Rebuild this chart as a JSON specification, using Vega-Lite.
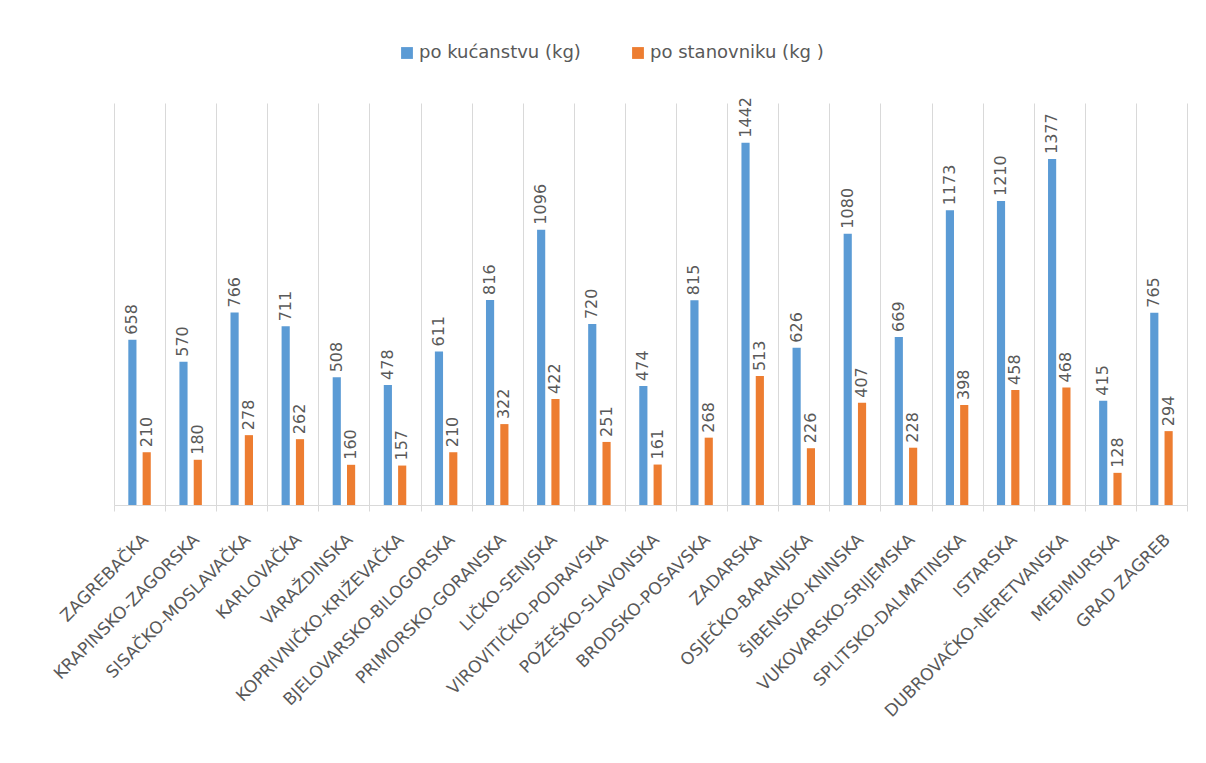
{
  "$schema": "https://vega.github.io/schema/vega-lite/v6.json",
  "width": 1073,
  "height": 402,
  "autosize": "none",
  "padding": {"left": 114, "top": 103, "right": 19, "bottom": 258},
  "background": "white",
  "config": {"view": {"stroke": null}, "font": "DejaVu Sans"},
  "data": {"values": [
    {"county": "ZAGREBAČKA", "series": "po kućanstvu (kg)", "value": 658},
    {"county": "ZAGREBAČKA", "series": "po stanovniku (kg )", "value": 210},
    {"county": "KRAPINSKO-ZAGORSKA", "series": "po kućanstvu (kg)", "value": 570},
    {"county": "KRAPINSKO-ZAGORSKA", "series": "po stanovniku (kg )", "value": 180},
    {"county": "SISAČKO-MOSLAVAČKA", "series": "po kućanstvu (kg)", "value": 766},
    {"county": "SISAČKO-MOSLAVAČKA", "series": "po stanovniku (kg )", "value": 278},
    {"county": "KARLOVAČKA", "series": "po kućanstvu (kg)", "value": 711},
    {"county": "KARLOVAČKA", "series": "po stanovniku (kg )", "value": 262},
    {"county": "VARAŽDINSKA", "series": "po kućanstvu (kg)", "value": 508},
    {"county": "VARAŽDINSKA", "series": "po stanovniku (kg )", "value": 160},
    {"county": "KOPRIVNIČKO-KRIŽEVAČKA", "series": "po kućanstvu (kg)", "value": 478},
    {"county": "KOPRIVNIČKO-KRIŽEVAČKA", "series": "po stanovniku (kg )", "value": 157},
    {"county": "BJELOVARSKO-BILOGORSKA", "series": "po kućanstvu (kg)", "value": 611},
    {"county": "BJELOVARSKO-BILOGORSKA", "series": "po stanovniku (kg )", "value": 210},
    {"county": "PRIMORSKO-GORANSKA", "series": "po kućanstvu (kg)", "value": 816},
    {"county": "PRIMORSKO-GORANSKA", "series": "po stanovniku (kg )", "value": 322},
    {"county": "LIČKO-SENJSKA", "series": "po kućanstvu (kg)", "value": 1096},
    {"county": "LIČKO-SENJSKA", "series": "po stanovniku (kg )", "value": 422},
    {"county": "VIROVITIČKO-PODRAVSKA", "series": "po kućanstvu (kg)", "value": 720},
    {"county": "VIROVITIČKO-PODRAVSKA", "series": "po stanovniku (kg )", "value": 251},
    {"county": "POŽEŠKO-SLAVONSKA", "series": "po kućanstvu (kg)", "value": 474},
    {"county": "POŽEŠKO-SLAVONSKA", "series": "po stanovniku (kg )", "value": 161},
    {"county": "BRODSKO-POSAVSKA", "series": "po kućanstvu (kg)", "value": 815},
    {"county": "BRODSKO-POSAVSKA", "series": "po stanovniku (kg )", "value": 268},
    {"county": "ZADARSKA", "series": "po kućanstvu (kg)", "value": 1442},
    {"county": "ZADARSKA", "series": "po stanovniku (kg )", "value": 513},
    {"county": "OSJEČKO-BARANJSKA", "series": "po kućanstvu (kg)", "value": 626},
    {"county": "OSJEČKO-BARANJSKA", "series": "po stanovniku (kg )", "value": 226},
    {"county": "ŠIBENSKO-KNINSKA", "series": "po kućanstvu (kg)", "value": 1080},
    {"county": "ŠIBENSKO-KNINSKA", "series": "po stanovniku (kg )", "value": 407},
    {"county": "VUKOVARSKO-SRIJEMSKA", "series": "po kućanstvu (kg)", "value": 669},
    {"county": "VUKOVARSKO-SRIJEMSKA", "series": "po stanovniku (kg )", "value": 228},
    {"county": "SPLITSKO-DALMATINSKA", "series": "po kućanstvu (kg)", "value": 1173},
    {"county": "SPLITSKO-DALMATINSKA", "series": "po stanovniku (kg )", "value": 398},
    {"county": "ISTARSKA", "series": "po kućanstvu (kg)", "value": 1210},
    {"county": "ISTARSKA", "series": "po stanovniku (kg )", "value": 458},
    {"county": "DUBROVAČKO-NERETVANSKA", "series": "po kućanstvu (kg)", "value": 1377},
    {"county": "DUBROVAČKO-NERETVANSKA", "series": "po stanovniku (kg )", "value": 468},
    {"county": "MEĐIMURSKA", "series": "po kućanstvu (kg)", "value": 415},
    {"county": "MEĐIMURSKA", "series": "po stanovniku (kg )", "value": 128},
    {"county": "GRAD ZAGREB", "series": "po kućanstvu (kg)", "value": 765},
    {"county": "GRAD ZAGREB", "series": "po stanovniku (kg )", "value": 294}
  ]},
  "encoding": {
    "x": {
      "field": "county", "type": "nominal", "sort": null,
      "scale": {"paddingInner": 0, "paddingOuter": 0},
      "axis": {
        "title": null, "labelAngle": -45, "labelFontSize": 17, "labelColor": "#595959",
        "labelPadding": 20, "tickBand": "extent", "grid": true, "gridColor": "#d9d9d9",
        "domainColor": "#d9d9d9", "tickColor": "#d9d9d9", "tickSize": 6, "labelLimit": 400
      }
    },
    "xOffset": {"field": "series", "type": "nominal", "sort": null, "scale": {"paddingInner": 0.43, "paddingOuter": 1.04}},
    "y": {"field": "value", "type": "quantitative", "scale": {"domain": [0, 1600]}, "axis": null}
  },
  "layer": [
    {
      "mark": {"type": "bar"},
      "encoding": {
        "color": {
          "field": "series", "type": "nominal", "sort": null,
          "scale": {"range": ["#5B9BD5", "#ED7D31"]},
          "legend": {
            "title": null, "orient": "none", "direction": "horizontal",
            "legendX": 284, "legendY": -59, "symbolType": "square", "symbolSize": 140,
            "symbolStrokeWidth": 0, "labelFontSize": 18, "labelColor": "#595959",
            "columnPadding": 48, "labelOffset": 3, "labelLimit": 400
          }
        }
      }
    },
    {
      "mark": {"type": "text", "angle": -90, "align": "left", "baseline": "middle", "dx": 5, "fontSize": 16, "color": "#595959"},
      "encoding": {"text": {"field": "value", "type": "quantitative"}}
    }
  ]
}
